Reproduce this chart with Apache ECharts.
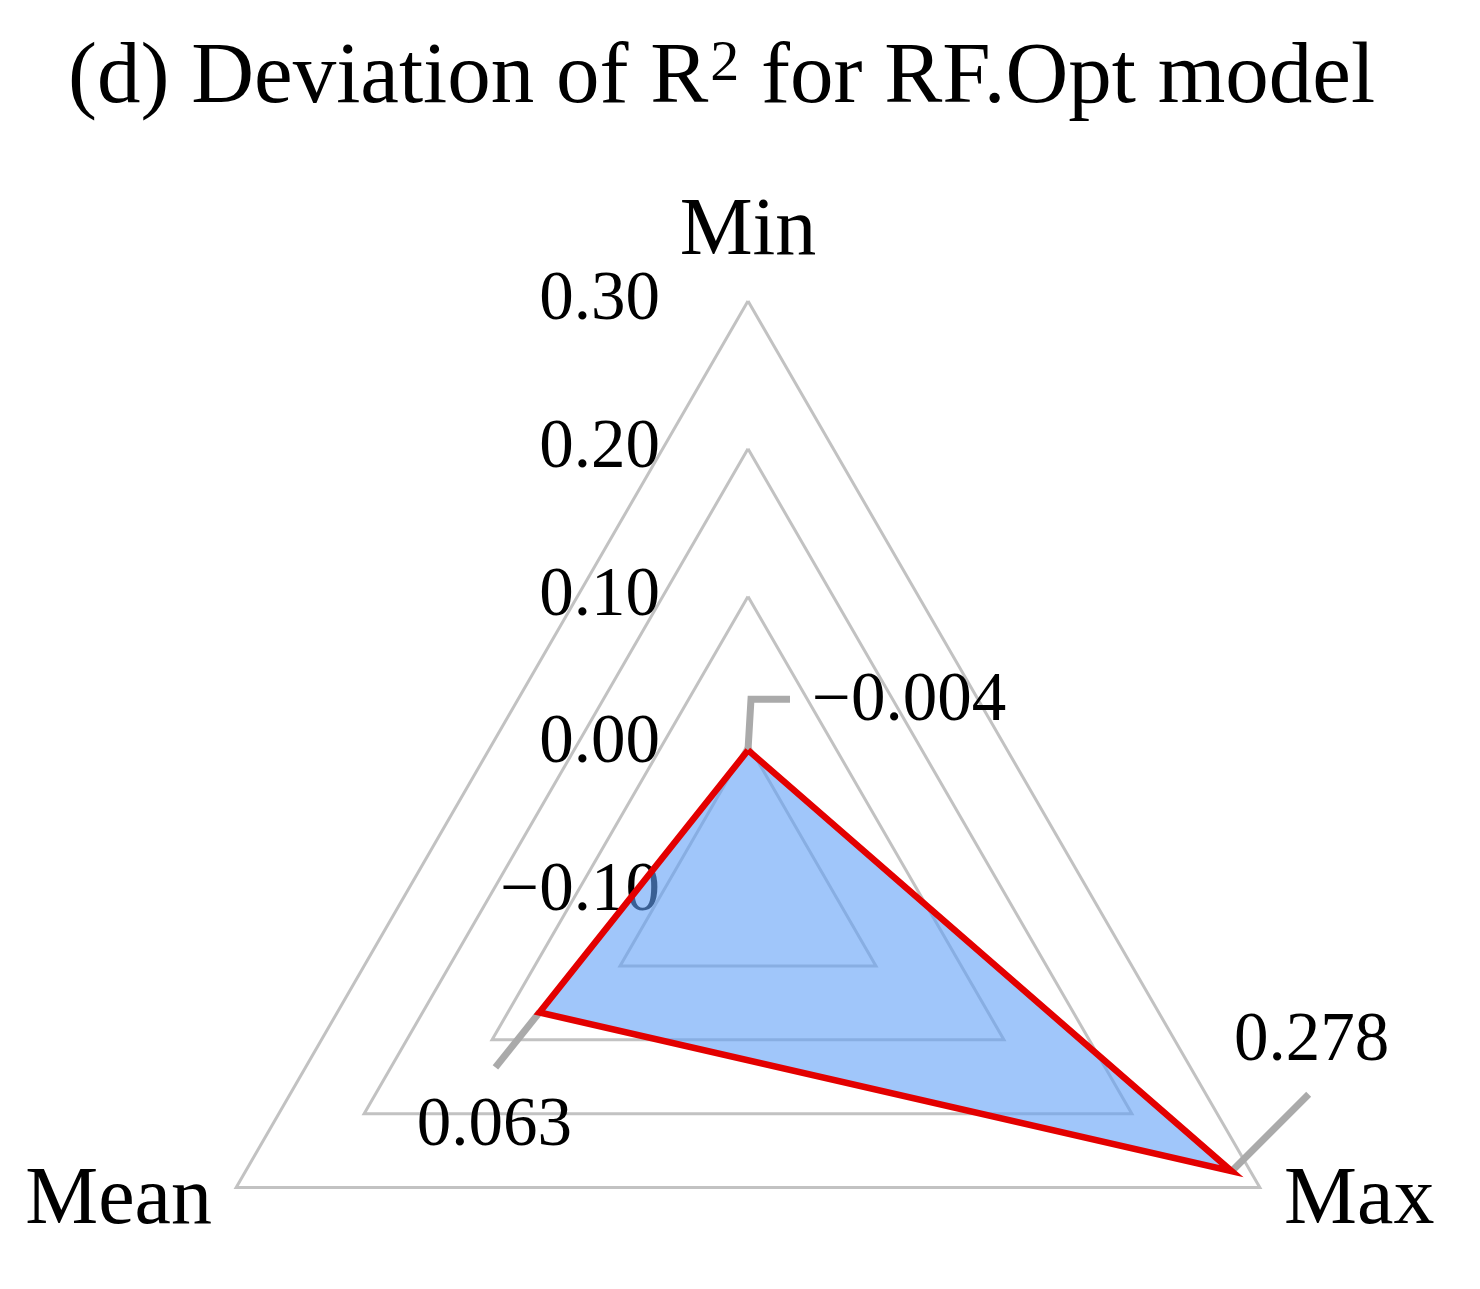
<!DOCTYPE html>
<html>
<head>
<meta charset="utf-8">
<script src="https://cdn.jsdelivr.net/npm/echarts@6/dist/echarts.min.js"></script>
<style>
  html, body { margin: 0; padding: 0; background: #ffffff; }
  #chart { width: 1480px; height: 1289px; }
</style>
</head>
<body>
<div id="chart"></div>
<script>
// ---- data ----
const TITLE_PARTS = ['(d) Deviation of R', '2', ' for RF.Opt model'];  // middle part is superscript
const INDICATORS = ['Min', 'Mean', 'Max'];          // counter-clockwise from top
const VALUES = [-0.004, 0.063, 0.278];
const AXIS_MIN = -0.10;
const AXIS_MAX = 0.30;
const AXIS_SPLITS = 4;

// ---- styling ----
const FONT = "'Liberation Serif', 'Times New Roman', serif";
const CENTER = [748, 892];
const RADIUS = 591;

function fmt(v, d) {
  const s = Math.abs(v).toFixed(d);
  return (v < -1e-9 ? '\u2212' : '') + s;
}

// leader line layout (offsets relative to the data point), one per indicator
const LEADERS = [
  { path: [[0, 0], [3, -51], [42, -51]], tx: 22, ty: 3, align: 'left' },   // Min
  { path: [[0, 0], [-44, 55]], tx: -1, ty: 59, align: 'center' },           // Mean
  { path: [[0, 0], [77, -77]], tx: 3, ty: -52, align: 'center' }            // Max
];

const chart = echarts.init(document.getElementById('chart'), null, { renderer: 'canvas' });

const labelPoints = VALUES.map((v, i) => [v, i * 360 / INDICATORS.length]);

const option = {
  backgroundColor: '#ffffff',
  animation: false,
  title: {
    text: TITLE_PARTS[0] + '{sup|' + TITLE_PARTS[1] + '}' + TITLE_PARTS[2],
    left: 68,
    top: 36,
    padding: 0,
    textStyle: {
      fontFamily: FONT, fontSize: 87, fontWeight: 'normal', color: '#000', lineHeight: 86,
      rich: {
        sup: { fontFamily: FONT, fontSize: 58, lineHeight: 48, verticalAlign: 'top', color: '#000', padding: [0, 0, 0, 2] }
      }
    }
  },
  radar: {
    center: CENTER,
    radius: RADIUS,
    shape: 'polygon',
    startAngle: 90,
    splitNumber: AXIS_SPLITS,
    nameGap: 28,
    axisName: { color: '#000', fontFamily: FONT, fontSize: 82 },
    indicator: INDICATORS.map((name, i) => ({
      name: name,
      min: AXIS_MIN,
      max: AXIS_MAX,
      axisLabel: i === 0 ? {
        show: true,
        color: '#000',
        fontFamily: FONT,
        fontSize: 69,
        margin: 88,
        formatter: v => fmt(v, 2)
      } : { show: false }
    })),
    axisLine: { show: false },
    axisTick: { show: false },
    axisLabel: { show: false },
    splitLine: { lineStyle: { color: '#c2c2c2', width: 3 } },
    splitArea: { show: false }
  },
  polar: { center: CENTER, radius: RADIUS },
  angleAxis: { type: 'value', min: 0, max: 360, startAngle: 90, clockwise: false, show: false },
  radiusAxis: { type: 'value', min: AXIS_MIN, max: AXIS_MAX, show: false },
  series: [
    {
      // filled area
      type: 'radar',
      z: 2,
      symbol: 'none',
      data: [{ value: VALUES, name: 'RF.Opt area' }],
      lineStyle: { width: 0, opacity: 0 },
      areaStyle: { color: 'rgb(97,160,247)', opacity: 0.6 },
      silent: true
    },
    {
      type: 'custom',
      coordinateSystem: 'polar',
      z: 3,
      silent: true,
      data: labelPoints,
      renderItem: function (params, api) {
        const i = params.dataIndex;
        const p = api.coord([api.value(0), api.value(1)]);
        const cfg = LEADERS[i];
        const pts = cfg.path.map(d => [p[0] + d[0], p[1] + d[1]]);
        const end = pts[pts.length - 1];
        return {
          type: 'group',
          children: [
            {
              type: 'polyline',
              shape: { points: pts },
              style: { stroke: '#aaaaaa', lineWidth: 7, fill: null, lineJoin: 'miter' }
            },
            {
              type: 'text',
              x: end[0] + cfg.tx,
              y: end[1] + cfg.ty,
              style: {
                text: fmt(VALUES[i], 3),
                fill: '#000',
                font: '69px ' + FONT,
                align: cfg.align,
                verticalAlign: 'middle'
              }
            }
          ]
        };
      }
    },
    {
      // outline on top
      type: 'radar',
      z: 4,
      symbol: 'none',
      data: [{ value: VALUES, name: 'RF.Opt' }],
      lineStyle: { color: '#e30000', width: 6.5, join: 'miter' },
      silent: true
    }
  ]
};

chart.setOption(option);
</script>
</body>
</html>
